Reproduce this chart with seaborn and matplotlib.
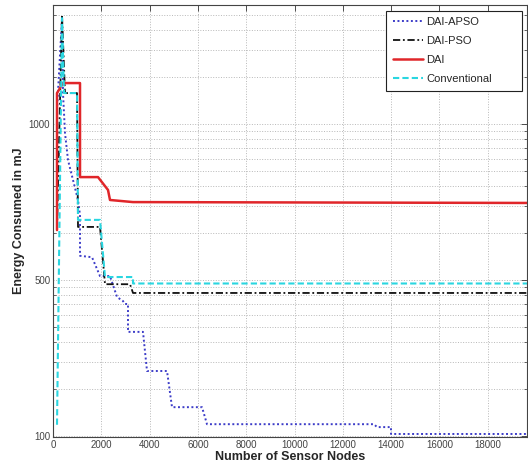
import numpy as np
import pandas as pd
import matplotlib
matplotlib.use("Agg")
import matplotlib.pyplot as plt
import seaborn as sns
from matplotlib.ticker import LogLocator, NullFormatter, FixedLocator, FixedFormatter

# ---- data ----
apso_n = [166, 373, 414, 497, 621, 828, 1035, 1118, 1118, 1615, 1946, 2360, 2650, 2898,
          2981, 3105, 3105, 3726, 3892, 4720, 4927, 6169, 6376, 13289, 13414, 13993, 13993, 19624]
apso_e = [1229, 4780, 1580, 876, 588, 438, 326, 261, 143, 140, 106, 106, 77.8, 73.3,
          70.2, 70.2, 46.5, 46.5, 26.1, 26.1, 15.3, 15.3, 11.9, 11.9, 11.4, 11.4, 10.3, 10.3]

pso_n = [166, 373, 497, 994, 1035, 1946, 2153, 3188, 3312, 19624]
pso_e = [209, 5000, 1580, 1580, 219, 219, 94, 94, 82.6, 82.6]

dai_n = [166, 166, 414, 1118, 1118, 1863, 2277, 2360, 3312, 19624]
dai_e = [209, 1580, 1832, 1832, 457, 457, 378, 326, 316, 312]

conv_n = [166, 373, 455, 994, 1035, 1946, 2153, 2360, 3312, 3312, 19624]
conv_e = [11.8, 4780, 1580, 1580, 243, 243, 104.5, 104.5, 104.5, 95, 95]

series_names = ["DAI-APSO", "DAI-PSO", "DAI", "Conventional"]
x_ticks = [0, 2000, 4000, 6000, 8000, 10000, 12000, 14000, 16000, 18000]
y_tick_pos = [10, 100, 1000]
y_tick_labels = ["100", "500", "1000"]

sns.set_theme(style="white")
plt.rcParams['font.family'] = ['Liberation Sans', 'DejaVu Sans']

fig = plt.figure(figsize=(5.28, 4.68), dpi=100)
ax = fig.add_axes([53 / 528, 31 / 468, (527 - 53) / 528, (437 - 5) / 468])

styles = [
    dict(color="#3c3cc8", lw=1.4, dashes=(1, 1.3)),
    dict(color="#111111", lw=1.3, dashes=(4, 1.5, 1, 1.5)),
    dict(color="#e0262a", lw=1.8, dashes=()),
    dict(color="#2ad6e0", lw=1.5, dashes=(3, 1.5)),
]
data = [(apso_n, apso_e), (pso_n, pso_e), (dai_n, dai_e), (conv_n, conv_e)]

lines = []
for name, (xs, ys), st in zip(series_names, data, styles):
    df = pd.DataFrame({"n": xs, "e": ys})
    sns.lineplot(data=df, x="n", y="e", ax=ax, sort=False, estimator=None,
                 color=st["color"], lw=st["lw"], label=name)
    ln = ax.get_lines()[-1]
    if st["dashes"]:
        ln.set_dashes(st["dashes"])
    lines.append(ln)

ax.set_yscale("log")
ax.set_ylim(9.85, 5800)
ax.set_xlim(0, 19624)

ax.set_xticks(x_ticks)
ax.set_xticklabels([str(t) for t in x_ticks])
ax.yaxis.set_major_locator(FixedLocator(y_tick_pos))
ax.yaxis.set_major_formatter(FixedFormatter(y_tick_labels))
ax.yaxis.set_minor_locator(LogLocator(base=10, subs=np.arange(2, 10), numticks=20))
ax.yaxis.set_minor_formatter(NullFormatter())

ax.tick_params(axis="both", which="major", direction="in", length=4, width=0.6,
               top=True, right=True, labelsize=7, labelcolor="#444444", color="#333333", pad=2)
ax.tick_params(axis="y", which="minor", direction="in", length=2, width=0.5,
               left=True, right=True, color="#333333")

ax.xaxis.grid(True, which="major", linestyle=":", color="#b8b8b8", lw=0.7)
ax.yaxis.grid(True, which="both", linestyle=":", color="#b8b8b8", lw=0.7)
ax.set_axisbelow(True)

for s in ax.spines.values():
    s.set_color("#444444")
    s.set_linewidth(0.8)

ax.set_xlabel("Number of Sensor Nodes", fontsize=9, fontweight="bold", labelpad=1)
ax.set_ylabel("Energy Consumed in mJ", fontsize=9, fontweight="bold", labelpad=3)

leg = ax.legend(handles=lines, labels=series_names, loc="upper left", mode="expand",
                bbox_to_anchor=(386 / 528, 1 - 11 / 468, (522 - 386) / 528, 0.001),
                bbox_transform=fig.transFigure,
                fontsize=8, frameon=True, fancybox=False, framealpha=1,
                edgecolor="#222222", handlelength=2.7, handletextpad=0.3,
                labelspacing=0.8, borderpad=0.6, borderaxespad=0)
leg.get_frame().set_linewidth(0.8)

fig.savefig("out.png", dpi=100)
